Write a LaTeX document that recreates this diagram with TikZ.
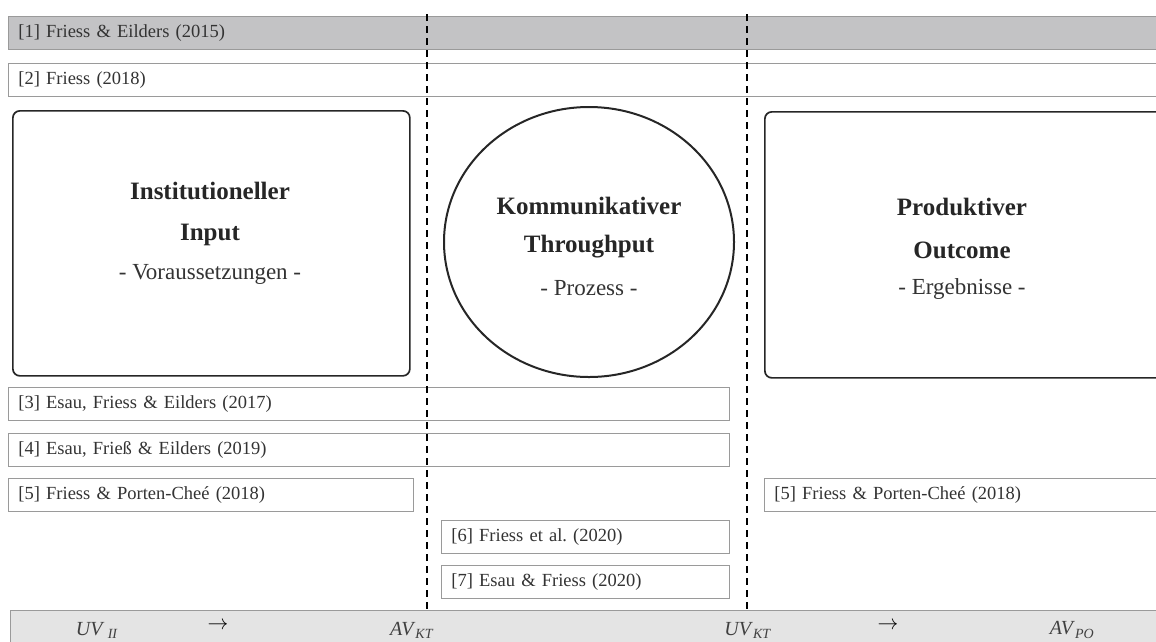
\documentclass[tikz,border=0pt]{standalone}
\usepackage{fontspec}
\setmainfont{Liberation Serif}
\usetikzlibrary{shapes.geometric}
\definecolor{boxline}{HTML}{9A9A9A}
\definecolor{darkfill}{HTML}{C3C3C5}
\definecolor{bandfill}{HTML}{E4E4E4}
\tikzset{
  citebox/.style={draw=boxline, line width=0.9pt, fill=white, anchor=north west,
    inner xsep=10pt, inner ysep=0pt, minimum height=33pt, align=left,
    font=\fontsize{18.5}{21}\selectfont, text=black!80},
  mainbox/.style={draw=black!85, line width=1.7pt, rounded corners=7pt, anchor=north west, inner sep=0pt},
  titletext/.style={font=\fontsize{25}{28}\bfseries\selectfont, text=black!85},
  subtext/.style={font=\fontsize{23}{26}\selectfont, text=black!80},
  divider/.style={draw=black, line width=1.5pt, dash pattern=on 7pt off 5pt},
  bandtext/.style={font=\fontsize{20}{24}\selectfont, text=black!75},
  arrowtext/.style={font=\fontsize{22}{24}\selectfont, text=black}
}
\begin{document}
\begin{tikzpicture}[x=1pt,y=-1pt]
\useasboundingbox (0,0) rectangle (1156,641);
% reference boxes spanning the width
\node[citebox, fill=darkfill, minimum width=1162pt, text width=1142pt] (b1) at (8,16) {[1] Friess \& Eilders (2015)};
\node[citebox, minimum width=1162pt, text width=1142pt] (b2) at (8,63) {[2] Friess (2018)};
% main shapes
\node[mainbox, minimum width=397pt, minimum height=265pt] (inp) at (12,110) {};
\node[ellipse, draw=black!85, line width=2pt, minimum width=290pt, minimum height=270pt, inner sep=0pt] (thr) at (589,242) {};
\node[mainbox, minimum width=420pt, minimum height=266pt] (out) at (764,111) {};
% texts in shapes
\node[titletext] (t1a) at (210,191) {Institutioneller};
\node[titletext] (t1b) at (210,235) {Input};
\node[subtext] (t1c) at (210,274) {- Voraussetzungen -};
\node[titletext] (t2a) at (589,206) {Kommunikativer};
\node[titletext] (t2b) at (589,247) {Throughput};
\node[subtext] (t2c) at (589,288) {- Prozess -};
\node[titletext] (t3a) at (962,207) {Produktiver};
\node[titletext] (t3b) at (962,250) {Outcome};
\node[subtext] (t3c) at (962,289) {- Ergebnisse -};
% lower reference boxes
\node[citebox, minimum width=721pt, text width=701pt] (b3) at (8,387) {[3] Esau, Friess \& Eilders (2017)};
\node[citebox, minimum width=721pt, text width=701pt] (b4) at (8,433) {[4] Esau, Frieß \& Eilders (2019)};
\node[citebox, minimum width=405pt, text width=385pt] (b5l) at (8,478) {[5] Friess \& Porten-Cheé (2018)};
\node[citebox, minimum width=420pt, text width=400pt] (b5r) at (764,478) {[5] Friess \& Porten-Cheé (2018)};
\node[citebox, minimum width=288pt, text width=268pt] (b6) at (441,520) {[6] Friess et al.\ (2020)};
\node[citebox, minimum width=288pt, text width=268pt] (b7) at (441,565) {[7] Esau \& Friess (2020)};
% bottom band
\node[draw=boxline, line width=0.9pt, fill=bandfill, anchor=north west, minimum width=1160pt, minimum height=40pt, inner sep=0pt] (band) at (10,610) {};
\node[bandtext] (v1) at (97,630) {\textit{UV}\,\textsubscript{\textit{II}}};
\node[arrowtext] (a1) at (218,626) {$\rightarrow$};
\node[bandtext] (v2) at (412,630) {\textit{AV}\textsubscript{\textit{KT}}};
\node[bandtext] (v3) at (748,630) {\textit{UV}\textsubscript{\textit{KT}}};
\node[arrowtext] (a2) at (888,626) {$\rightarrow$};
\node[bandtext] (v4) at (1072,630) {\textit{AV}\textsubscript{\textit{PO}}};
% dashed dividers
\coordinate (d1t) at (427,14);
\coordinate (d1b) at (427,610);
\coordinate (d2t) at (747,14);
\coordinate (d2b) at (747,610);
\draw[divider] (d1t) -- (d1b);
\draw[divider] (d2t) -- (d2b);
\end{tikzpicture}
\end{document}
